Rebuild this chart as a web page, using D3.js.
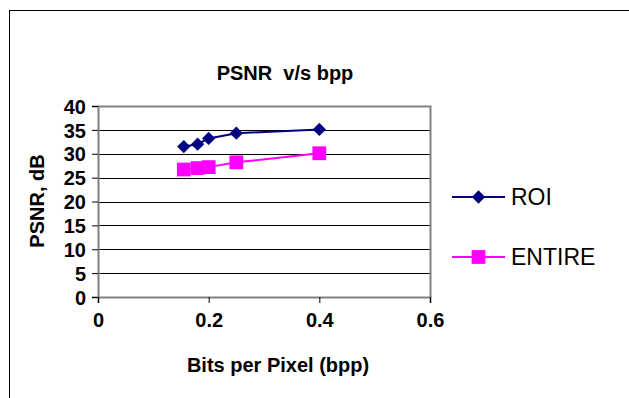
<!DOCTYPE html>
<html>
<head>
<meta charset="utf-8">
<script src="https://cdn.jsdelivr.net/npm/d3@7"></script>
<style>
  body { margin: 0; background: #fff; }
  text { font-family: Arial, "Liberation Sans", sans-serif; }
</style>
</head>
<body>
<div id="chart"></div>
<script>
const bpp = [0.155, 0.18, 0.2, 0.25, 0.4];
const roi = [31.5, 32.0, 33.2, 34.3, 35.1];
const entire = [26.7, 27.0, 27.2, 28.2, 30.1];
const xTicks = [0, 0.2, 0.4, 0.6];
const yTicks = [0, 5, 10, 15, 20, 25, 30, 35, 40];

const series = [
  { name: 'ROI', values: roi, color: '#000080', size: 88, rotate: 45 },
  { name: 'ENTIRE', values: entire, color: '#ff00ff', size: 190, rotate: 0 },
];

const W = 629, H = 398;
const plot = { left: 98, right: 430, top: 106, bottom: 297 };

const svg = d3.select('#chart').append('svg')
  .attr('width', W)
  .attr('height', H);

// outer frame
svg.append('rect')
  .attr('x', 9.5).attr('y', 10.5)
  .attr('width', 640).attr('height', 400)
  .attr('fill', '#fff')
  .attr('stroke', '#000')
  .attr('stroke-width', 1);

const x = d3.scaleLinear().domain([0, 0.6]).range([plot.left, plot.right]);
const y = d3.scaleLinear().domain([0, 40]).range([plot.bottom, plot.top]);

// gridlines
svg.append('g')
  .selectAll('line')
  .data(yTicks.filter(d => d > 0 && d < 40))
  .enter().append('line')
  .attr('x1', plot.left).attr('x2', plot.right)
  .attr('y1', d => Math.round(y(d)) + 0.5)
  .attr('y2', d => Math.round(y(d)) + 0.5)
  .attr('stroke', '#000')
  .attr('stroke-width', 1);

// plot border (top and right)
svg.append('path')
  .attr('d', `M${plot.left},${plot.top + 0.5}H${plot.right + 0.5}V${plot.bottom}`)
  .attr('fill', 'none')
  .attr('stroke', '#808080')
  .attr('stroke-width', 2);

const yAxis = d3.axisLeft(y).tickValues(yTicks).tickSize(6).tickFormat(d3.format('d'));
const xAxis = d3.axisBottom(x).tickValues(xTicks).tickSize(6).tickFormat(d => d === 0 ? '0' : d3.format('.1f')(d));

const gy = svg.append('g')
  .attr('transform', `translate(${plot.left},0)`)
  .call(yAxis);
const gx = svg.append('g')
  .attr('transform', `translate(0,${plot.bottom})`)
  .call(xAxis);

[gy, gx].forEach(g => {
  g.select('.domain').attr('stroke', '#808080').attr('stroke-width', 2);
  g.selectAll('.tick line').attr('stroke', '#000');
  g.selectAll('.tick text')
    .attr('fill', '#000')
    .style('font-size', '20px')
    .style('font-weight', 'bold')
    .style('font-family', 'Arial, "Liberation Sans", sans-serif');
});
gy.selectAll('.tick text').attr('x', -12).attr('dy', '0.36em');
gx.selectAll('.tick text').attr('y', 16).attr('dy', '0.71em');

// lines and markers
const line = d3.line()
  .x((d, i) => x(bpp[i]))
  .y(d => y(d));

series.forEach(s => {
  svg.append('path')
    .datum(s.values)
    .attr('d', line)
    .attr('fill', 'none')
    .attr('stroke', s.color)
    .attr('stroke-width', 2);

  svg.append('g')
    .selectAll('path')
    .data(s.values)
    .enter().append('path')
    .attr('transform', (d, i) => `translate(${x(bpp[i])},${y(d)}) rotate(${s.rotate})`)
    .attr('d', d3.symbol().type(d3.symbolSquare).size(s.size))
    .attr('fill', s.color);
});

// titles
svg.append('text')
  .attr('x', 285).attr('y', 80)
  .attr('text-anchor', 'middle')
  .attr('xml:space', 'preserve')
  .style('white-space', 'pre')
  .style('font-size', '20px').style('font-weight', 'bold')
  .text('PSNR  v/s bpp');

svg.append('text')
  .attr('x', 278).attr('y', 372)
  .attr('text-anchor', 'middle')
  .style('font-size', '20px').style('font-weight', 'bold')
  .text('Bits per Pixel (bpp)');

svg.append('text')
  .attr('transform', 'translate(44,201) rotate(-90)')
  .attr('text-anchor', 'middle')
  .style('font-size', '20px').style('font-weight', 'bold')
  .text('PSNR, dB');

// legend
const legendY = [197, 257];
const legend = svg.append('g')
  .selectAll('g')
  .data(series)
  .enter().append('g')
  .attr('transform', (d, i) => `translate(452,${legendY[i]})`);

legend.append('line')
  .attr('x1', 0).attr('x2', 53)
  .attr('stroke', d => d.color)
  .attr('stroke-width', 2);
legend.append('path')
  .attr('transform', d => `translate(26.5,0) rotate(${d.rotate})`)
  .attr('d', d => d3.symbol().type(d3.symbolSquare).size(d.size)())
  .attr('fill', d => d.color);
legend.append('text')
  .attr('x', 59).attr('dy', '0.36em')
  .style('font-size', '23px')
  .attr('fill', '#000')
  .text(d => d.name);
</script>
</body>
</html>
